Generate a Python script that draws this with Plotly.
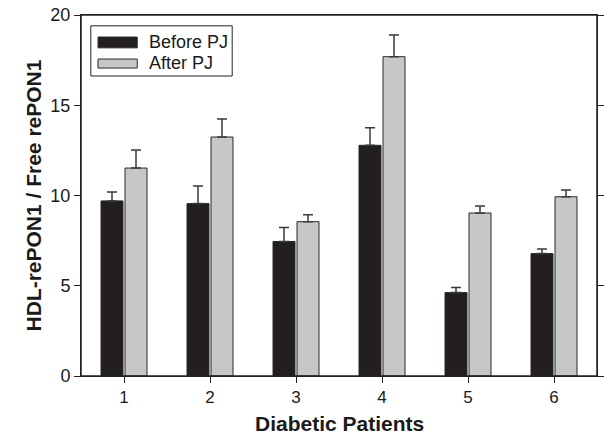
import plotly.graph_objects as go

patients = ["1", "2", "3", "4", "5", "6"]
before_pj = [9.7, 9.55, 7.45, 12.78, 4.62, 6.78]
before_err = [0.5, 0.98, 0.78, 0.98, 0.28, 0.26]
after_pj = [11.52, 13.24, 8.55, 17.69, 9.03, 9.93]
after_err = [1.0, 1.0, 0.39, 1.2, 0.39, 0.37]
series_names = ["Before PJ", "After PJ"]

BLACK = "#231f20"
GRAY = "#c6c7c9"
EDGE = "#2a2a2a"
TXT = "#1a1a1a"

fig = go.Figure()
for name, vals, errs, col in [(series_names[0], before_pj, before_err, BLACK),
                              (series_names[1], after_pj, after_err, GRAY)]:
    fig.add_trace(go.Bar(
        x=patients, y=vals, name=name, showlegend=False,
        marker=dict(color=col, line=dict(color=EDGE, width=1)),
        error_y=dict(type="data", array=errs, arrayminus=[0] * len(errs),
                     symmetric=False, color="#3a3a3a", thickness=1.5, width=5),
    ))

font_family = "Liberation Sans, Arial, sans-serif"

fig.update_layout(
    width=605, height=436,
    margin=dict(l=81, r=8, t=15, b=60, autoexpand=False),
    paper_bgcolor="white", plot_bgcolor="white",
    barmode="group", bargap=0.442, bargroupgap=0.083,
    font=dict(family=font_family, size=16, color=TXT),
    xaxis=dict(
        type="category", range=[-0.5, 5.5], automargin=False,
        showline=True, linecolor="#222", linewidth=1, mirror=True,
        ticks="outside", ticklen=6, tickcolor="#222", tickwidth=1,
        showgrid=False, zeroline=False, ticklabeloverflow="allow",
        tickfont=dict(size=17),
    ),
    yaxis=dict(
        range=[0, 20], tickvals=[0, 5, 10, 15, 20], automargin=False,
        showline=True, linecolor="#222", linewidth=1, mirror="ticks",
        ticks="outside", ticklen=6, tickcolor="#222", tickwidth=1,
        showgrid=False, zeroline=False, ticklabeloverflow="allow",
        tickfont=dict(size=18),
    ),
)

# axis titles
fig.add_annotation(xref="paper", yref="paper", x=0.5, y=0, yshift=-47,
                   text="<b>Diabetic Patients</b>", showarrow=False,
                   xanchor="center", yanchor="middle", font=dict(size=21))
fig.add_annotation(xref="paper", yref="paper", x=0, xshift=-48, y=0.5,
                   text="<b>HDL-rePON1 / Free rePON1</b>", showarrow=False, textangle=-90,
                   xanchor="center", yanchor="middle", font=dict(size=21))

# plot frame + custom legend matching the reference's wide swatches
shapes = [
    dict(type="rect", xref="paper", yref="paper", x0=0, x1=1, y0=0, y1=1,
         line=dict(color="#222", width=1.5), fillcolor="rgba(0,0,0,0)", layer="above"),
    dict(type="rect", xref="paper", yref="paper", x0=0.019, x1=0.293, y0=0.831, y1=0.970,
         line=dict(color="#222", width=1), fillcolor="white", layer="above"),
    dict(type="rect", xref="paper", yref="paper", x0=0.033, x1=0.109, y0=0.909, y1=0.939,
         line=dict(color=EDGE, width=1), fillcolor=BLACK, layer="above"),
    dict(type="rect", xref="paper", yref="paper", x0=0.033, x1=0.109, y0=0.853, y1=0.878,
         line=dict(color=EDGE, width=1), fillcolor=GRAY, layer="above"),
]
fig.update_layout(shapes=shapes)
fig.add_annotation(xref="paper", yref="paper", x=0.128, y=0.924, text=series_names[0],
                   showarrow=False, xanchor="left", yanchor="middle", font=dict(size=18))
fig.add_annotation(xref="paper", yref="paper", x=0.128, y=0.866, text=series_names[1],
                   showarrow=False, xanchor="left", yanchor="middle", font=dict(size=18))

# remove the browser's default 8px page margin so the figure fills the window exactly
fig.write_html("out.html", config={"displayModeBar": False},
               post_script="document.body.style.margin='0';document.body.style.overflow='hidden';")
